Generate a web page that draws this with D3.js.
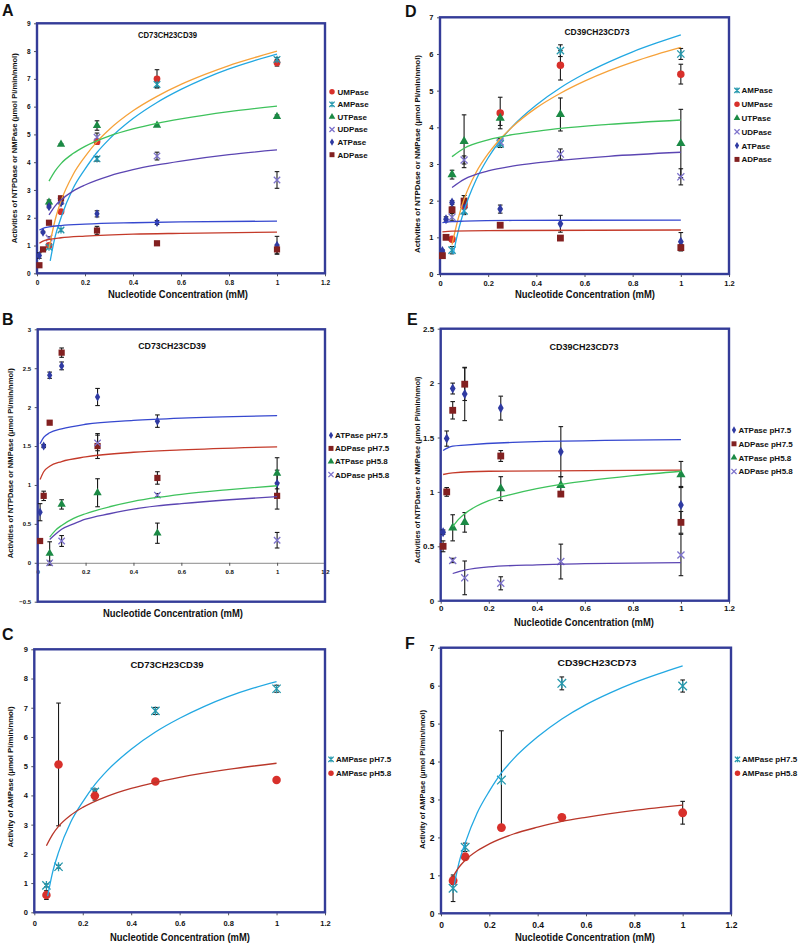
<!DOCTYPE html>
<html><head><meta charset="utf-8">
<script src="https://cdn.jsdelivr.net/npm/d3@7"></script>
<style>
body{margin:0;background:#fff}
svg{display:block}
text{font-family:"Liberation Sans",Arial,sans-serif;font-weight:bold;fill:#111}
</style>
</head><body>
<svg id="chart" width="800" height="945"></svg>
<script>
// ---------------- DATA ----------------
const xTicks = [0, 0.2, 0.4, 0.6, 0.8, 1, 1.2];
const yTicksA = [0, 1, 2, 3, 4, 5, 6, 7, 8, 9];
const yTicksB = [-0.5, 0, 0.5, 1, 1.5, 2, 2.5, 3];
const yTicksC = [0, 1, 2, 3, 4, 5, 6, 7, 8, 9];
const yTicksD = [0, 1, 2, 3, 4, 5, 6, 7];
const yTicksE = [0, 0.5, 1, 1.5, 2, 2.5];
const yTicksF = [0, 1, 2, 3, 4, 5, 6, 7];

const panelLetters = ["A", "B", "C", "D", "E", "F"];
const titleCD73 = "CD73CH23CD39";
const titleCD39 = "CD39CH23CD73";
const xLabel = "Nucleotide Concentration (mM)";
const yLabelNTP = "Activities of NTPDase or NMPase (\u03bcmol Pi/min/nmol)";
const yLabelAMP = "Activity of AMPase (\u03bcmol Pi/min/nmol)";

const namesA = ["UMPase", "AMPase", "UTPase", "UDPase", "ATPase", "ADPase"];
const namesD = ["AMPase", "UMPase", "UTPase", "UDPase", "ATPase", "ADPase"];
const namesBE = ["ATPase pH7.5", "ADPase pH7.5", "ATPase pH5.8", "ADPase pH5.8"];
const namesCF = ["AMPase pH7.5", "AMPase pH5.8"];

// points: [concentration, activity, error]
const umpA = [[0.05,1.0,0.05],[0.1,2.22,0.05],[0.25,4.74,0.1],[0.5,7.0,0.33],[1,7.58,0.12]];
const ampA = [[0.05,0.94,0.05],[0.1,1.56,0.05],[0.25,4.12,0.08],[0.5,6.8,0.1],[1,7.7,0.07]];
const utpA = [[0.05,2.56,0.08],[0.1,4.64,0.03],[0.25,5.32,0.17],[0.5,5.33,0.04],[1,5.64,0.06]];
const udpA = [[0.05,1.27,0.05],[0.1,2.6,0.05],[0.25,4.9,0.15],[0.5,4.22,0.14],[1,3.36,0.3]];
const atpA = [[0.01,0.64,0.1],[0.025,1.48,0.03],[0.05,2.4,0.04],[0.1,2.53,0.05],[0.25,2.14,0.11],[0.5,1.83,0.07],[1,1.01,0.32]];
const adpA = [[0.01,0.29,0.02],[0.025,0.86,0.06],[0.05,1.82,0.03],[0.1,2.7,0.07],[0.25,1.54,0.15],[0.5,1.08,0.06],[1,0.86,0.16]];

const ampD = [[0.05,0.65,0.1],[0.1,1.72,0.1],[0.25,3.55,0.1],[0.5,6.09,0.16],[1,6.0,0.15]];
const umpD = [[0.05,0.95,0.05],[0.1,1.86,0.08],[0.25,4.39,0.43],[0.5,5.69,0.4],[1,5.45,0.27]];
const utpD = [[0.05,2.71,0.12],[0.1,3.62,0.72],[0.25,4.25,0.2],[0.5,4.35,0.45],[1,3.56,0.93]];
const udpD = [[0.05,1.55,0.1],[0.1,3.11,0.11],[0.25,3.6,0.1],[0.5,3.27,0.14],[1,2.65,0.22]];
const atpD = [[0.01,0.63,0.03],[0.025,1.49,0.07],[0.05,1.95,0.05],[0.1,1.9,0.24],[0.25,1.77,0.11],[0.5,1.37,0.23],[1,0.88,0.25]];
const adpD = [[0.01,0.5,0.04],[0.025,1.0,0.04],[0.05,1.75,0.08],[0.1,1.99,0.15],[0.25,1.33,0.05],[0.5,0.98,0.02],[1,0.72,0.08]];

const atp75B = [[0.01,0.65,0.11],[0.025,1.5,0.02],[0.05,2.41,0.04],[0.1,2.53,0.05],[0.25,2.13,0.11],[0.5,1.82,0.08],[1,1.02,0.17]];
const adp75B = [[0.01,0.28,0.02],[0.025,0.86,0.06],[0.05,1.8,0.02],[0.1,2.7,0.06],[0.25,1.5,0.16],[0.5,1.09,0.08],[1,0.86,0.17]];
const atp58B = [[0.05,0.12,0.15],[0.1,0.75,0.06],[0.25,0.9,0.18],[0.5,0.38,0.13],[1,1.15,0.2]];
const adp58B = [[0.05,0.0,0.02],[0.1,0.28,0.07],[0.25,1.54,0.1],[0.5,0.87,0.02],[1,0.29,0.1]];

const atp75E = [[0.01,0.63,0.02],[0.025,1.49,0.07],[0.05,1.95,0.05],[0.1,1.9,0.245],[0.25,1.77,0.11],[0.5,1.37,0.23],[1,0.88,0.17]];
const adp75E = [[0.01,0.5,0.05],[0.025,1.0,0.04],[0.05,1.75,0.08],[0.1,1.99,0.15],[0.25,1.33,0.05],[0.5,0.98,0.02],[1,0.72,0.1]];
const atp58E = [[0.05,0.67,0.12],[0.1,0.72,0.09],[0.25,1.03,0.11],[0.5,1.06,0.08],[1,1.16,0.12]];
const adp58E = [[0.05,0.37,0.02],[0.1,0.21,0.155],[0.25,0.16,0.06],[0.5,0.36,0.16],[1,0.42,0.19]];

const amp75C = [[0.05,0.92,0.05],[0.1,1.56,0.05],[0.25,4.12,0.1],[0.5,6.89,0.12],[1,7.65,0.12]];
const amp58C = [[0.05,0.59,0.15],[0.1,5.06,2.1],[0.25,3.99,0.15],[0.5,4.48,0.03],[1,4.53,0.04]];

const amp75F = [[0.05,0.66,0.35],[0.1,1.74,0.11],[0.25,3.51,1.3],[0.5,6.06,0.17],[1,5.99,0.16]];
const amp58F = [[0.05,0.86,0.1],[0.1,1.49,0.05],[0.25,2.26,0.06],[0.5,2.53,0.04],[1,2.65,0.3]];

// trend lines: [concentration, activity]
const fitUmpA = [[0.05,0.9],[0.075,1.9],[0.1,2.6],[0.15,3.55],[0.2,4.2],[0.25,4.74],[0.3,5.17],[0.4,5.85],[0.5,6.37],[0.6,6.8],[0.7,7.16],[0.8,7.48],[0.9,7.75],[1,8.0]];
const fitAmpA = [[0.055,0.45],[0.075,1.3],[0.1,2.0],[0.15,3.05],[0.2,3.75],[0.25,4.35],[0.3,4.82],[0.4,5.57],[0.5,6.15],[0.6,6.62],[0.7,7.02],[0.8,7.36],[0.9,7.64],[1,7.89]];
const fitUtpA = [[0.05,3.32],[0.075,3.68],[0.1,3.95],[0.15,4.31],[0.2,4.57],[0.3,4.94],[0.4,5.2],[0.5,5.4],[0.6,5.56],[0.8,5.82],[1,6.02]];
const fitUdpA = [[0.05,2.1],[0.075,2.42],[0.1,2.64],[0.15,2.96],[0.2,3.18],[0.3,3.5],[0.4,3.73],[0.5,3.9],[0.6,4.04],[0.8,4.27],[1,4.44]];
const fitAtpA = [[0.01,1.56],[0.025,1.62],[0.05,1.67],[0.1,1.72],[0.2,1.77],[0.4,1.82],[0.6,1.85],[1,1.88]];
const fitAdpA = [[0.01,1.08],[0.025,1.16],[0.05,1.22],[0.1,1.28],[0.2,1.34],[0.4,1.41],[0.6,1.44],[1,1.48]];

const fitAmpD = [[0.055,0.55],[0.075,1.15],[0.1,1.73],[0.15,2.57],[0.2,3.17],[0.25,3.64],[0.3,4.02],[0.4,4.61],[0.5,5.08],[0.6,5.46],[0.7,5.78],[0.8,6.06],[0.9,6.3],[1,6.52]];
const fitUmpD = [[0.05,0.8],[0.075,1.5],[0.1,2.04],[0.15,2.77],[0.2,3.28],[0.25,3.68],[0.3,4.01],[0.4,4.53],[0.5,4.93],[0.6,5.26],[0.7,5.54],[0.8,5.78],[0.9,5.99],[1,6.18]];
const fitUtpD = [[0.05,3.2],[0.1,3.43],[0.2,3.66],[0.3,3.8],[0.4,3.89],[0.5,3.97],[0.7,4.08],[1,4.2]];
const fitUdpD = [[0.05,2.36],[0.1,2.58],[0.2,2.81],[0.3,2.94],[0.4,3.03],[0.5,3.1],[0.7,3.21],[1,3.32]];
const fitAtpD = [[0.01,1.4],[0.05,1.43],[0.1,1.44],[0.3,1.46],[1,1.47]];
const fitAdpD = [[0.01,1.15],[0.05,1.17],[0.2,1.185],[1,1.2]];

const fitAtp75B = [[0.01,1.53],[0.025,1.61],[0.05,1.67],[0.1,1.72],[0.2,1.78],[0.4,1.83],[0.6,1.86],[1,1.89]];
const fitAdp75B = [[0.01,1.07],[0.025,1.17],[0.05,1.24],[0.1,1.3],[0.2,1.36],[0.4,1.42],[0.6,1.45],[1,1.49]];
const fitAtp58B = [[0.05,0.33],[0.075,0.42],[0.1,0.48],[0.15,0.57],[0.2,0.63],[0.3,0.72],[0.4,0.79],[0.5,0.84],[0.6,0.88],[0.8,0.94],[1,0.99]];
const fitAdp58B = [[0.05,0.3],[0.075,0.37],[0.1,0.43],[0.15,0.5],[0.2,0.56],[0.3,0.63],[0.4,0.69],[0.5,0.73],[0.6,0.76],[0.8,0.81],[1,0.85]];

const fitAtp75E = [[0.01,1.38],[0.025,1.4],[0.05,1.42],[0.1,1.43],[0.3,1.455],[1,1.48]];
const fitAdp75E = [[0.01,1.16],[0.05,1.175],[0.2,1.19],[1,1.2]];
const fitAtp58E = [[0.05,0.68],[0.075,0.75],[0.1,0.8],[0.15,0.87],[0.2,0.92],[0.3,0.98],[0.4,1.03],[0.5,1.07],[0.6,1.1],[0.8,1.15],[1,1.19]];
const fitAdp58E = [[0.05,0.25],[0.1,0.28],[0.2,0.31],[0.4,0.33],[0.6,0.34],[1,0.35]];

const fitAmp75C = [[0.055,0.55],[0.075,1.35],[0.1,2.05],[0.15,3.08],[0.2,3.78],[0.25,4.37],[0.3,4.84],[0.4,5.58],[0.5,6.17],[0.6,6.64],[0.7,7.04],[0.8,7.38],[0.9,7.66],[1,7.89]];
const fitAmp58C = [[0.05,2.28],[0.075,2.66],[0.1,2.94],[0.15,3.32],[0.2,3.59],[0.3,3.97],[0.4,4.24],[0.5,4.45],[0.6,4.62],[0.8,4.89],[1,5.1]];

const fitAmp75F = [[0.055,0.75],[0.075,1.35],[0.1,1.85],[0.15,2.65],[0.2,3.22],[0.25,3.7],[0.3,4.07],[0.4,4.65],[0.5,5.12],[0.6,5.5],[0.7,5.81],[0.8,6.08],[0.9,6.31],[1,6.52]];
const fitAmp58F = [[0.05,0.97],[0.075,1.22],[0.1,1.4],[0.15,1.65],[0.2,1.83],[0.3,2.09],[0.4,2.27],[0.5,2.42],[0.6,2.53],[0.8,2.71],[1,2.85]];

// ---------------- STYLES ----------------
const MK = {
  circle:   {shape: "circle",   color: "#d8302b"},
  star:     {shape: "star",     color: "#2598ad"},
  triangle: {shape: "triangle", color: "#1b8a45"},
  cross:    {shape: "cross",    color: "#7d72cc"},
  diamond:  {shape: "diamond",  color: "#2f3aa2"},
  square:   {shape: "square",   color: "#822020"}
};
const FC = {orange: "#f6a23a", cyan: "#22a8e2", green: "#3ec25c", purple: "#5b45b2", blue: "#3648cf", red: "#c43a2a", darkred: "#b9372a"};
const FRAME = "#343c98";

const panels = [
  {letter: panelLetters[0], lpos: [2, 15.5], fr: {l: 37, r: 325, t: 23.3, b: 273.3}, yd: [0, 9], yTicks: yTicksA,
   title: titleCD73, tpos: [167.5, 37.5, 59], xl: [178, 298], yl: yLabelNTP, ylp: [17, 148.3, 190],
   tfs: 6.5, xtb: 285, ms: 1, leg: {mx: 332, tx: 337.5, y0: 91.7, dy: 12.6},
   series: [
     {name: namesA[0], pts: umpA, fit: fitUmpA, mk: MK.circle, fc: FC.orange},
     {name: namesA[1], pts: ampA, fit: fitAmpA, mk: MK.star, fc: FC.cyan},
     {name: namesA[2], pts: utpA, fit: fitUtpA, mk: MK.triangle, fc: FC.green},
     {name: namesA[3], pts: udpA, fit: fitUdpA, mk: MK.cross, fc: FC.purple},
     {name: namesA[4], pts: atpA, fit: fitAtpA, mk: MK.diamond, fc: FC.blue},
     {name: namesA[5], pts: adpA, fit: fitAdpA, mk: MK.square, fc: FC.red}
   ]},
  {letter: panelLetters[1], lpos: [2, 325], fr: {l: 37.7, r: 325, t: 329.3, b: 601.7}, yd: [-0.5, 3], yTicks: yTicksB,
   title: titleCD73, tpos: [172, 348.5, 67.7], xl: [173, 617], yl: yLabelNTP, ylp: [13, 463.3, 190],
   tfs: 6, xtb: 574, ms: 1, zeroAxis: true, leg: {mx: 331, tx: 335, y0: 435.3, dy: 13.1},
   series: [
     {name: namesBE[0], pts: atp75B, fit: fitAtp75B, mk: MK.diamond, fc: FC.blue},
     {name: namesBE[1], pts: adp75B, fit: fitAdp75B, mk: MK.square, fc: FC.red},
     {name: namesBE[2], pts: atp58B, fit: fitAtp58B, mk: MK.triangle, fc: FC.green},
     {name: namesBE[3], pts: adp58B, fit: fitAdp58B, mk: MK.cross, fc: FC.purple}
   ]},
  {letter: panelLetters[2], lpos: [2, 640], fr: {l: 34.3, r: 325, t: 649.3, b: 912.3}, yd: [0, 9], yTicks: yTicksC,
   title: titleCD73, tpos: [167, 667.5, 73], xl: [180, 941], yl: yLabelAMP, ylp: [13, 777, 141],
   tfs: 7.5, xtb: 926, ms: 1.25, leg: {mx: 331, tx: 336, y0: 759.3, dy: 14},
   series: [
     {name: namesCF[0], pts: amp75C, fit: fitAmp75C, mk: MK.star, fc: FC.cyan},
     {name: namesCF[1], pts: amp58C, fit: fitAmp58C, mk: MK.circle, fc: FC.darkred}
   ]},
  {letter: panelLetters[3], lpos: [405, 16.5], fr: {l: 440, r: 729, t: 17.3, b: 274}, yd: [0, 7], yTicks: yTicksD,
   title: titleCD39, tpos: [597, 35, 65], xl: [585, 298], yl: yLabelNTP, ylp: [420, 154, 198],
   tfs: 7.5, xtb: 285.5, ms: 1.1, leg: {mx: 737, tx: 741.5, y0: 90.4, dy: 13.8},
   series: [
     {name: namesD[0], pts: ampD, fit: fitAmpD, mk: MK.star, fc: FC.cyan},
     {name: namesD[1], pts: umpD, fit: fitUmpD, mk: MK.circle, fc: FC.orange},
     {name: namesD[2], pts: utpD, fit: fitUtpD, mk: MK.triangle, fc: FC.green},
     {name: namesD[3], pts: udpD, fit: fitUdpD, mk: MK.cross, fc: FC.purple},
     {name: namesD[4], pts: atpD, fit: fitAtpD, mk: MK.diamond, fc: FC.blue},
     {name: namesD[5], pts: adpD, fit: fitAdpD, mk: MK.square, fc: FC.red}
   ]},
  {letter: panelLetters[4], lpos: [407, 325], fr: {l: 440.7, r: 729, t: 328.7, b: 600.7}, yd: [0, 2.5], yTicks: yTicksE,
   title: titleCD39, tpos: [584, 350, 69], xl: [584, 626], yl: yLabelNTP, ylp: [420, 470, 187],
   tfs: 8, xtb: 611, ms: 1.1, leg: {mx: 734, tx: 738.5, y0: 430, dy: 13.8},
   series: [
     {name: namesBE[0], pts: atp75E, fit: fitAtp75E, mk: MK.diamond, fc: FC.blue},
     {name: namesBE[1], pts: adp75E, fit: fitAdp75E, mk: MK.square, fc: FC.red},
     {name: namesBE[2], pts: atp58E, fit: fitAtp58E, mk: MK.triangle, fc: FC.green},
     {name: namesBE[3], pts: adp58E, fit: fitAdp58E, mk: MK.cross, fc: FC.purple}
   ]},
  {letter: panelLetters[5], lpos: [405, 649], fr: {l: 441, r: 731, t: 647.7, b: 913.3}, yd: [0, 7], yTicks: yTicksF,
   title: titleCD39, tpos: [597, 666, 79], xl: [585, 941], yl: yLabelAMP, ylp: [425, 779.5, 139],
   tfs: 8.5, xtb: 928, ms: 1.3, leg: {mx: 737.5, tx: 742, y0: 759.3, dy: 14},
   series: [
     {name: namesCF[0], pts: amp75F, fit: fitAmp75F, mk: MK.star, fc: FC.cyan},
     {name: namesCF[1], pts: amp58F, fit: fitAmp58F, mk: MK.circle, fc: FC.darkred}
   ]}
];

// ---------------- DRAW ----------------
const svg = d3.select("#chart");

function drawMarker(g, mk, cx, cy, k) {
  const c = mk.color;
  if (mk.shape === "circle") {
    g.append("circle").attr("cx", cx).attr("cy", cy).attr("r", 3.4 * k).attr("fill", c);
  } else if (mk.shape === "square") {
    const s = 6.2 * k;
    g.append("rect").attr("x", cx - s / 2).attr("y", cy - s / 2).attr("width", s).attr("height", s).attr("fill", c);
  } else if (mk.shape === "triangle") {
    g.append("path").attr("transform", `translate(${cx},${cy})`)
      .attr("d", d3.symbol(d3.symbolTriangle, 30 * k * k)()).attr("fill", c);
  } else if (mk.shape === "diamond") {
    g.append("path").attr("transform", `translate(${cx},${cy})`)
      .attr("d", d3.symbol(d3.symbolDiamond, 24 * k * k)()).attr("fill", c);
  } else if (mk.shape === "cross") {
    const h = 3.2 * k;
    g.append("path").attr("d", `M${cx - h},${cy - h}L${cx + h},${cy + h}M${cx - h},${cy + h}L${cx + h},${cy - h}`)
      .attr("stroke", c).attr("stroke-width", 1.3).attr("fill", "none");
  } else if (mk.shape === "star") {
    const h = 3.3 * k;
    g.append("path").attr("d", `M${cx - h},${cy - h}L${cx + h},${cy + h}M${cx - h},${cy + h}L${cx + h},${cy - h}M${cx},${cy - h * 1.1}L${cx},${cy + h * 1.1}`)
      .attr("stroke", c).attr("stroke-width", 1.3).attr("fill", "none");
  }
}

panels.forEach(p => {
  const g = svg.append("g");
  const x = d3.scaleLinear().domain([0, 1.2]).range([p.fr.l, p.fr.r]);
  const y = d3.scaleLinear().domain(p.yd).range([p.fr.b, p.fr.t]);

  // panel letter
  g.append("text").attr("x", p.lpos[0]).attr("y", p.lpos[1]).attr("font-size", 16).text(p.letter);

  // axes (ticks and labels)
  const xAxisY = p.zeroAxis ? y(0) : p.fr.b;
  const xfs = p.tfs;
  const xa = g.append("g").attr("transform", `translate(0,${xAxisY})`)
    .call(d3.axisBottom(x).tickValues(xTicks).tickFormat(d3.format("~g")).tickSize(3)
      .tickPadding(p.xtb - xAxisY - 0.71 * xfs - 3));
  xa.select(".domain").attr("stroke", p.zeroAxis ? "#8a8a8a" : "none");
  xa.selectAll(".tick line").attr("stroke", "#555");
  xa.selectAll("text").attr("font-size", xfs).attr("fill", "#111").attr("font-family", "Liberation Sans, Arial, sans-serif").attr("font-weight", "bold");

  const ya = g.append("g").attr("transform", `translate(${p.fr.l},0)`)
    .call(d3.axisLeft(y).tickValues(p.yTicks).tickFormat(d3.format("~g")).tickSize(3).tickPadding(3.5));
  ya.select(".domain").attr("stroke", "none");
  ya.selectAll(".tick line").attr("stroke", "#555");
  ya.selectAll("text").attr("font-size", p.tfs).attr("fill", "#111").attr("font-family", "Liberation Sans, Arial, sans-serif").attr("font-weight", "bold");

  // frame
  g.append("rect").attr("x", p.fr.l).attr("y", p.fr.t)
    .attr("width", p.fr.r - p.fr.l).attr("height", p.fr.b - p.fr.t)
    .attr("fill", "none").attr("stroke", FRAME).attr("stroke-width", 2.4);

  // title
  g.append("text").attr("x", p.tpos[0]).attr("y", p.tpos[1]).attr("text-anchor", "middle")
    .attr("font-size", 9.5).attr("textLength", p.tpos[2]).attr("lengthAdjust", "spacingAndGlyphs").text(p.title);

  // axis titles
  g.append("text").attr("x", p.xl[0]).attr("y", p.xl[1]).attr("text-anchor", "middle")
    .attr("font-size", 10.5).attr("textLength", 140).attr("lengthAdjust", "spacingAndGlyphs").text(xLabel);
  g.append("text").attr("transform", `translate(${p.ylp[0]},${p.ylp[1]}) rotate(-90)`).attr("text-anchor", "middle")
    .attr("font-size", 7.6).attr("textLength", p.ylp[2]).attr("lengthAdjust", "spacingAndGlyphs").text(p.yl);

  // error bars + markers
  p.series.forEach(s => {
    const eg = g.append("g");
    s.pts.forEach(d => {
      const cx = x(d[0]), y1 = y(d[1] - d[2]), y2 = y(d[1] + d[2]);
      eg.append("line").attr("x1", cx).attr("x2", cx).attr("y1", y1).attr("y2", y2).attr("stroke", "#1a1a1a").attr("stroke-width", 1.1);
      [y1, y2].forEach(yy => eg.append("line").attr("x1", cx - 2.3).attr("x2", cx + 2.3).attr("y1", yy).attr("y2", yy).attr("stroke", "#1a1a1a").attr("stroke-width", 1.1));
    });
  });
  p.series.forEach(s => {
    const mg = g.append("g");
    s.pts.forEach(d => drawMarker(mg, s.mk, x(d[0]), y(d[1]), p.ms));
  });

  // trend lines
  const line = d3.line().x(d => x(d[0])).y(d => y(d[1])).curve(d3.curveMonotoneX);
  p.series.forEach(s => {
    g.append("path").datum(s.fit).attr("d", line).attr("fill", "none")
      .attr("stroke", s.fc).attr("stroke-width", 1.3);
  });

  // legend
  p.series.forEach((s, i) => {
    const cy = p.leg.y0 + i * p.leg.dy;
    drawMarker(g, s.mk, p.leg.mx, cy, 0.8);
    g.append("text").attr("x", p.leg.tx).attr("y", cy + 2.9).attr("font-size", 8).text(s.name);
  });
});
</script>
</body></html>
